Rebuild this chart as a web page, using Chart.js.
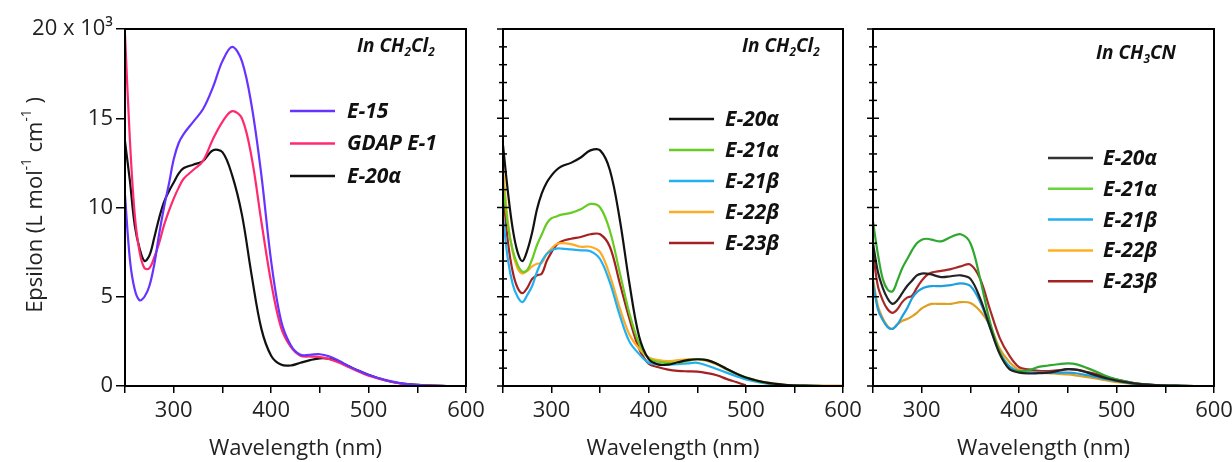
<!DOCTYPE html>
<html>
<head>
<meta charset="utf-8">
<script src="https://cdn.jsdelivr.net/npm/chart.js@4.4.0/dist/chart.umd.min.js"></script>
<style>
  html, body { margin: 0; padding: 0; background: #fff; overflow: hidden; }
  #wrap { position: relative; width: 1232px; height: 462px; }
  canvas { position: absolute; top: 0; }
</style>
</head>
<body>
<div id="wrap">
  <canvas id="panel1" style="left:0px;width:500px;height:462px" width="500" height="462"></canvas>
  <canvas id="panel2" style="left:480px;width:400px;height:462px" width="400" height="462"></canvas>
  <canvas id="panel3" style="left:850px;width:400px;height:462px" width="400" height="462"></canvas>
</div>
<script>
// Absorption spectra, epsilon in units of 10^3 L mol-1 cm-1

const wavelengths = [250, 255, 260, 265, 270, 275, 280, 285, 290, 295, 300, 305, 310,
  320, 330, 340, 350, 360, 370, 380, 390, 400, 410, 420, 430, 440, 450, 460, 470,
  480, 490, 500, 520, 540, 560, 580, 600];

const xTicks = [250, 300, 350, 400, 450, 500, 550, 600];
const xLabels = ['', '300', '', '400', '', '500', '', '600'];
const yTicks = [0, 5, 10, 15, 20];
const yLabels = ['0', '5', '10', '15', '20 x 10\u00B3'];

// Panel 1 - in CH2Cl2
const p1Labels = ['E-15', 'GDAP E-1', 'E-20\u03B1'];
const p1E15 = [10.7, 7.1, 5.4, 4.8, 5.0, 5.6, 6.8, 8.5, 10.0, 11.3, 12.7, 13.6, 14.1,
  14.8, 15.5, 16.7, 18.2, 19.0, 18.2, 15.7, 11.8, 7.0, 3.7, 2.3, 1.75, 1.75, 1.78, 1.65, 1.4,
  1.1, 0.85, 0.62, 0.3, 0.1, 0.02, 0, 0];
const p1GDAP = [19.7, 13.8, 9.6, 7.5, 6.6, 6.6, 7.2, 8.0, 9.0, 9.8, 10.5, 11.1, 11.6,
  12.1, 12.6, 13.8, 14.8, 15.4, 15.0, 12.8, 9.2, 5.8, 3.3, 2.2, 1.7, 1.65, 1.62, 1.5, 1.3,
  1.05, 0.8, 0.58, 0.28, 0.08, 0.02, 0, 0];
const p1E20a = [13.7, 11.5, 9.0, 7.7, 7.0, 7.3, 8.3, 9.4, 10.3, 10.9, 11.4, 11.9, 12.2,
  12.4, 12.6, 13.2, 13.1, 11.8, 9.6, 6.2, 3.2, 1.7, 1.2, 1.15, 1.3, 1.45, 1.55, 1.52, 1.35,
  1.1, 0.85, 0.63, 0.28, 0.1, 0.03, 0, 0];

// Panel 2 - in CH2Cl2
const p23Labels = ['E-20\u03B1', 'E-21\u03B1', 'E-21\u03B2', 'E-22\u03B2', 'E-23\u03B2'];
const p2E20a = [13.5, 10.9, 8.8, 7.5, 7.0, 7.6, 8.6, 9.9, 10.8, 11.4, 11.8, 12.1, 12.3,
  12.5, 12.8, 13.2, 13.2, 12.1, 9.4, 5.8, 2.8, 1.5, 1.2, 1.2, 1.33, 1.45, 1.5, 1.45, 1.25,
  0.97, 0.7, 0.48, 0.2, 0.07, 0.02, 0, 0];
const p2E21a = [11.4, 9.0, 7.6, 6.8, 6.4, 6.5, 7.1, 7.9, 8.5, 9.1, 9.4, 9.5, 9.6,
  9.7, 9.9, 10.2, 10.0, 8.7, 6.4, 4.1, 2.4, 1.55, 1.35, 1.3, 1.32, 1.4, 1.5, 1.45, 1.25,
  0.95, 0.7, 0.48, 0.18, 0.06, 0.02, 0, 0];
const p2E21b = [9.5, 7.1, 5.7, 5.0, 4.7, 5.1, 5.6, 6.4, 7.0, 7.4, 7.6, 7.7, 7.7,
  7.65, 7.6, 7.55, 7.1, 5.8, 4.0, 2.5, 1.8, 1.3, 1.22, 1.2, 1.22, 1.27, 1.3, 1.15, 0.95,
  0.75, 0.55, 0.37, 0.15, 0.05, 0.02, 0, 0];
const p2E22b = [12.2, 9.2, 7.5, 6.6, 6.3, 6.45, 6.7, 6.85, 6.9, 7.4, 7.7, 7.95, 8.0,
  7.95, 7.8, 7.8, 7.5, 6.2, 4.4, 2.9, 2.1, 1.6, 1.45, 1.4, 1.45, 1.5, 1.5, 1.4, 1.2,
  0.92, 0.68, 0.47, 0.2, 0.07, 0.03, 0.02, 0.02];
const p2E23b = [10.9, 8.1, 6.4, 5.5, 5.2, 5.5, 6.0, 6.2, 6.3, 7.0, 7.5, 7.9, 8.1,
  8.25, 8.35, 8.5, 8.5, 7.8, 5.8, 3.8, 2.1, 1.25, 1.05, 0.92, 0.85, 0.82, 0.8, 0.72, 0.6,
  0.4, 0.22, 0.04, null, null, null, null, null];

// Panel 3 - in CH3CN
const p3E20a = [8.0, 6.4, 5.5, 4.9, 4.6, 4.8, 5.2, 5.6, 5.9, 6.2, 6.3, 6.3, 6.25,
  6.1, 6.15, 6.2, 6.0, 4.9, 3.3, 1.8, 0.95, 0.75, 0.7, 0.72, 0.75, 0.85, 0.94, 0.9, 0.75,
  0.58, 0.43, 0.3, 0.13, 0.05, 0.02, 0, 0];
const p3E21a = [9.2, 7.4, 6.0, 5.4, 5.3, 5.9, 6.6, 7.1, 7.6, 8.0, 8.2, 8.25, 8.2,
  8.1, 8.35, 8.5, 8.0, 6.0, 3.6, 1.9, 0.95, 0.84, 0.88, 1.07, 1.15, 1.22, 1.27, 1.2, 1.0,
  0.78, 0.55, 0.38, 0.15, 0.05, 0.02, 0, 0];
const p3E21b = [5.8, 4.3, 3.7, 3.3, 3.2, 3.45, 3.9, 4.35, 4.9, 5.25, 5.45, 5.55, 5.6,
  5.6, 5.65, 5.75, 5.6, 4.7, 3.3, 1.9, 1.1, 0.8, 0.75, 0.75, 0.75, 0.75, 0.75, 0.7, 0.6,
  0.5, 0.38, 0.28, 0.12, 0.04, 0.02, 0, 0];
const p3E22b = [6.0, 4.5, 3.8, 3.35, 3.2, 3.45, 3.65, 3.75, 3.9, 4.1, 4.35, 4.5, 4.6,
  4.6, 4.6, 4.7, 4.65, 4.2, 3.4, 2.1, 1.35, 0.9, 0.8, 0.75, 0.72, 0.68, 0.65, 0.58, 0.5,
  0.41, 0.31, 0.22, 0.09, 0.03, 0.01, 0, 0];
const p3E23b = [7.5, 5.6, 4.8, 4.3, 4.1, 4.3, 4.7, 4.95, 5.05, 5.5, 5.9, 6.2, 6.35,
  6.45, 6.55, 6.7, 6.8, 6.0, 4.3, 2.7, 1.7, 1.05, 0.93, 0.85, 0.84, 0.88, 0.94, 0.9, 0.78,
  0.65, 0.5, 0.36, 0.15, 0.05, 0.02, 0, 0];

const FONT = '"Open Sans", "Liberation Sans", sans-serif';

function series(label, values, color, legendColor) {
  return {
    label: label,
    data: wavelengths.map((w, i) => ({ x: w, y: values[i] })),
    borderColor: color,
    legendColor: legendColor || color,
    borderWidth: 2.2,
    pointRadius: 0,
    tension: 0.35,
    spanGaps: false
  };
}

function richWidth(ctx, parts, size, style) {
  let w = 0;
  parts.forEach(([text, shift]) => {
    const s = shift ? size * 0.62 : size;
    ctx.font = style + ' ' + s + 'px ' + FONT;
    w += ctx.measureText(text).width;
  });
  return w;
}

// parts: [text, shift] with shift 1 = subscript, -1 = superscript
function drawRich(ctx, parts, x, y, size, style) {
  let cx = x;
  parts.forEach(([text, shift]) => {
    const s = shift ? size * 0.62 : size;
    ctx.font = style + ' ' + s + 'px ' + FONT;
    const dy = shift === 1 ? size * 0.32 : (shift === -1 ? -size * 0.42 : 0);
    ctx.fillText(text, cx, y + dy);
    cx += ctx.measureText(text).width;
  });
}

const panelDecor = {
  id: 'panelDecor',
  afterDraw(chart, args, opts) {
    const ctx = chart.ctx;
    const area = chart.chartArea;
    ctx.save();

    // frame round the plot
    ctx.strokeStyle = '#000';
    ctx.lineWidth = 2;
    ctx.strokeRect(area.left, area.top, area.right - area.left, area.bottom - area.top);

    // ticks crossing the left axis
    if (opts.crossTicks) {
      const yScale = chart.scales.y;
      ctx.lineWidth = 1.5;
      yScale.ticks.forEach(t => {
        const py = yScale.getPixelForValue(t.value);
        const len = t.value % 5 === 0 ? 6 : 4;
        ctx.beginPath();
        ctx.moveTo(area.left - len, py);
        ctx.lineTo(area.left + len, py);
        ctx.stroke();
      });
    }

    // legend
    const lg = opts.legend;
    ctx.textBaseline = 'middle';
    ctx.textAlign = 'left';
    chart.data.datasets.forEach((ds, i) => {
      const y = lg.y + i * lg.dy;
      ctx.strokeStyle = ds.legendColor;
      ctx.lineWidth = 2.5;
      ctx.beginPath();
      ctx.moveTo(lg.x, y);
      ctx.lineTo(lg.x + lg.len, y);
      ctx.stroke();
      ctx.fillStyle = '#111';
      ctx.font = 'italic bold 21px ' + FONT;
      ctx.fillText(ds.label, lg.x + lg.len + lg.gap, y + 1);
    });

    // solvent
    ctx.fillStyle = '#111';
    drawRich(ctx, opts.solvent.parts, opts.solvent.x, opts.solvent.y, 19, 'italic bold');

    // y title
    if (opts.yTitle) {
      const t = opts.yTitle;
      const w = richWidth(ctx, t.parts, 22, 'normal');
      ctx.translate(t.x, t.y);
      ctx.rotate(-Math.PI / 2);
      ctx.fillStyle = '#222';
      drawRich(ctx, t.parts, -w / 2, 0, 22, 'normal');
    }
    ctx.restore();
  }
};

function makePanel(id, datasets, cfg) {
  const yAxis = cfg.first ? {
    type: 'linear', min: 0, max: 20,
    afterBuildTicks: s => { s.ticks = yTicks.map(v => ({ value: v })); },
    afterFit: s => { s.width = cfg.yWidth; },
    ticks: {
      color: '#222', padding: 3,
      font: { family: FONT, size: 22 },
      callback: (v) => yLabels[yTicks.indexOf(v)]
    },
    grid: { drawOnChartArea: false, tickLength: 9, lineWidth: 1.5, color: '#000' },
    border: { display: false }
  } : {
    type: 'linear', min: 0, max: 20,
    ticks: { display: false, stepSize: 1 },
    afterFit: s => { s.width = cfg.yWidth; },
    grid: { display: false },
    border: { display: false }
  };

  return new Chart(document.getElementById(id), {
    type: 'line',
    data: { datasets: datasets },
    options: {
      responsive: false,
      animation: false,
      layout: { padding: { top: 29, right: cfg.padRight, bottom: 0, left: 0 } },
      scales: {
        x: {
          type: 'linear', min: 250, max: 600,
          afterBuildTicks: s => { s.ticks = xTicks.map(v => ({ value: v })); },
          afterFit: s => { s.height = 76; },
          ticks: {
            color: '#222', padding: 5, maxRotation: 0, autoSkip: false,
            font: { family: FONT, size: 22 },
            callback: (v) => xLabels[xTicks.indexOf(v)]
          },
          grid: { drawOnChartArea: false, tickLength: 7, lineWidth: 1.5, color: '#000' },
          border: { display: false },
          title: {
            display: true, text: 'Wavelength (nm)', color: '#222',
            font: { family: FONT, size: 22 }, padding: { top: 0, bottom: 0 }
          }
        },
        y: yAxis
      },
      plugins: {
        legend: { display: false },
        tooltip: { enabled: false },
        panelDecor: cfg.decor
      }
    },
    plugins: [panelDecor]
  });
}

makePanel('panel1', [
  series(p1Labels[0], p1E15, '#6633FF'),
  series(p1Labels[1], p1GDAP, '#FF2A6E'),
  series(p1Labels[2], p1E20a, '#111111')
], {
  first: true, yWidth: 125, padRight: 34,
  decor: {
    legend: { x: 290, y: 111, dy: 32.5, len: 45, gap: 12 },
    solvent: { x: 357, y: 47, parts: [['In CH', 0], ['2', 1], ['Cl', 0], ['2', 1]] },
    yTitle: { x: 36, y: 205, parts: [['Epsilon (L mol', 0], ['-1', -1], [' cm', 0], ['-1', -1], [' )', 0]] }
  }
});

makePanel('panel2', [
  series(p23Labels[0], p2E20a, '#111111'),
  series(p23Labels[1], p2E21a, '#66CC22'),
  series(p23Labels[2], p2E21b, '#22B0F0'),
  series(p23Labels[3], p2E22b, '#FFAA22'),
  series(p23Labels[4], p2E23b, '#A52020')
], {
  first: false, yWidth: 23, padRight: 37,
  decor: {
    crossTicks: true,
    legend: { x: 189, y: 119, dy: 31, len: 45, gap: 11 },
    solvent: { x: 262, y: 47, parts: [['In CH', 0], ['2', 1], ['Cl', 0], ['2', 1]] }
  }
});

makePanel('panel3', [
  series(p23Labels[0], p3E20a, '#222222', '#333333'),
  series(p23Labels[1], p3E21a, '#2EA82E', '#6CD43A'),
  series(p23Labels[2], p3E21b, '#1E9FE0', '#22B0F0'),
  series(p23Labels[3], p3E22b, '#DDA020', '#FFB022'),
  series(p23Labels[4], p3E23b, '#A82828', '#A52020')
], {
  first: false, yWidth: 23, padRight: 36,
  decor: {
    crossTicks: true,
    legend: { x: 198, y: 158, dy: 30.8, len: 45, gap: 10 },
    solvent: { x: 246, y: 54, parts: [['In CH', 0], ['3', 1], ['CN', 0]] }
  }
});
</script>
</body>
</html>
